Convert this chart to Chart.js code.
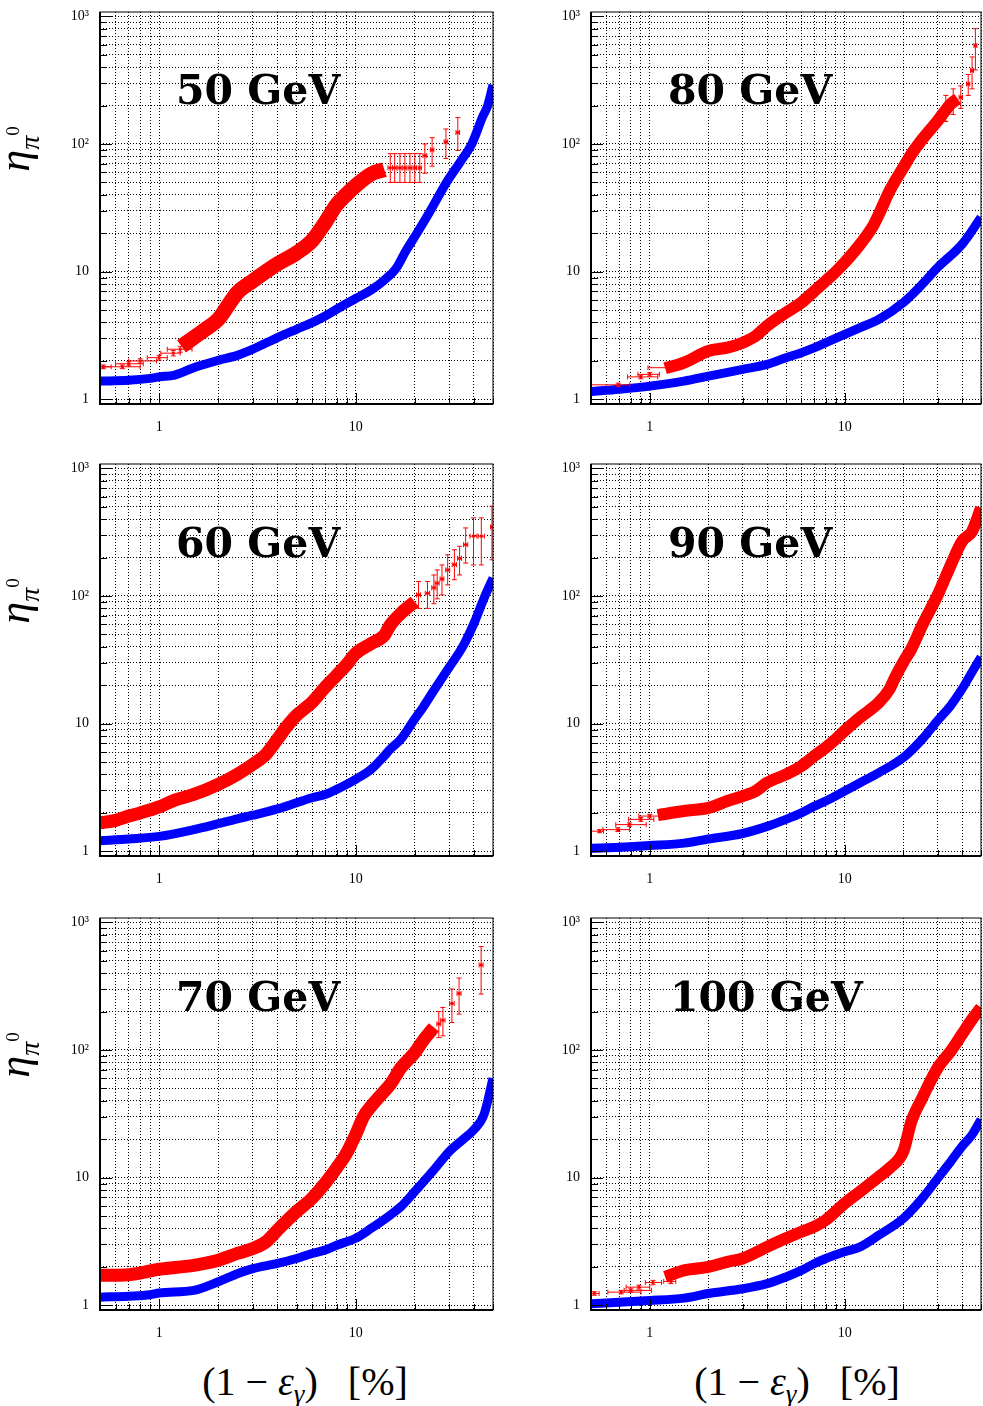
<!DOCTYPE html>
<html>
<head>
<meta charset="utf-8">
<title>eta_pi0 vs (1 - eps_gamma)</title>
<script src="https://cdn.jsdelivr.net/npm/chart.js"></script>
<style>
html, body { margin: 0; padding: 0; background: #fff; overflow: hidden; }
body { width: 983px; height: 1406px; position: relative; }
canvas { position: absolute; }
.title { position: absolute; font-family: "DejaVu Serif", serif; font-weight: bold; font-size: 41px; line-height: 41px; color: #000; white-space: nowrap; }
.ylab { position: absolute; width: 90px; height: 50px; line-height: 50px; text-align: center; font-family: "Liberation Serif", serif; font-size: 44px; font-style: italic; color: #000; transform: rotate(-90deg); white-space: nowrap; }
.ylab sub { font-size: 28px; line-height: 0; vertical-align: -10px; }
.ylab sup { font-size: 19px; line-height: 0; font-style: normal; vertical-align: 20px; }
.xlab { position: absolute; width: 320px; height: 40px; line-height: 40px; text-align: center; font-family: "Liberation Serif", serif; font-size: 40px; color: #000; white-space: nowrap; }
.xlab sub { font-size: 27px; line-height: 0; vertical-align: -8px; }
</style>
</head>
<body>
<canvas id="c50" width="500" height="444" style="left:0px;top:0px"></canvas>
<canvas id="c80" width="495" height="444" style="left:490px;top:0px"></canvas>
<canvas id="c60" width="500" height="444" style="left:0px;top:452px"></canvas>
<canvas id="c90" width="495" height="444" style="left:490px;top:452px"></canvas>
<canvas id="c70" width="500" height="444" style="left:0px;top:906px"></canvas>
<canvas id="c100" width="495" height="444" style="left:490px;top:906px"></canvas>

<div class="title" style="left:176px;top:70px">50 GeV</div>
<div class="title" style="left:668px;top:70px">80 GeV</div>
<div class="title" style="left:176px;top:523px">60 GeV</div>
<div class="title" style="left:668px;top:523px">90 GeV</div>
<div class="title" style="left:176px;top:977px">70 GeV</div>
<div class="title" style="left:670px;top:977px">100 GeV</div>

<div class="ylab" style="left:-30px;top:124px">η<sub>π<sup>0</sup></sub></div>
<div class="ylab" style="left:-30px;top:576px">η<sub>π<sup>0</sup></sub></div>
<div class="ylab" style="left:-30px;top:1030px">η<sub>π<sup>0</sup></sub></div>

<div class="xlab" style="left:145px;top:1362px">(1 − <i>ε</i><sub><i>γ</i></sub>)&nbsp;&nbsp;&nbsp;[%]</div>
<div class="xlab" style="left:637px;top:1362px">(1 − <i>ε</i><sub><i>γ</i></sub>)&nbsp;&nbsp;&nbsp;[%]</div>

<script>
// axis ticks (log-log, grid at every minor value)
var xTicks = [0.5, 0.6, 0.7, 0.8, 0.9, 1, 2, 3, 4, 5, 6, 7, 8, 9, 10, 20, 30, 40, 50];
var xTickLabels = { 1: '1', 10: '10' };
var yTicks = [1, 2, 3, 4, 5, 6, 7, 8, 9, 10, 20, 30, 40, 50, 60, 70, 80, 90,
              100, 200, 300, 400, 500, 600, 700, 800, 900, 1000];
var yTickLabels = { 1: '1', 10: '10', 100: '10²', 1000: '10³' };

// 50 GeV
var red50X = [1.3, 1.5, 1.75, 2, 2.5, 3, 4, 5, 6, 7, 8, 9, 10, 12, 14];
var red50Y = [2.6, 3.05, 3.6, 4.24, 6.86, 8.47, 11.5, 14, 17.5, 24.3, 33.4, 40.5, 47.1, 58.2, 63];
var blue50X = [0.5, 0.7, 0.9, 1, 1.2, 1.5, 2, 2.5, 3, 4, 5, 6, 7, 8, 10, 12, 14, 16, 18, 20.5, 24, 29, 34, 39, 44, 47, 50];
var blue50Y = [1.39, 1.41, 1.46, 1.5, 1.55, 1.77, 2.02, 2.21, 2.47, 3.05, 3.54, 3.99, 4.5, 5.08, 6.16, 7.2, 8.6, 10.5, 14.5, 20, 30, 50, 72, 100, 160, 200, 290];
// [x, y, xLo, xHi, yLo, yHi]
var pts50 = [
  [0.52, 1.80, 0.45, 0.57, 1.74, 1.86],
  [0.65, 1.80, 0.50, 0.80, 1.74, 1.86],
  [0.70, 1.90, 0.60, 0.83, 1.83, 1.97],
  [0.80, 2.00, 0.70, 0.97, 1.92, 2.08],
  [1.00, 2.12, 0.87, 1.10, 2.03, 2.21],
  [1.18, 2.30, 1.02, 1.28, 2.19, 2.41],
  [1.28, 2.47, 1.10, 1.47, 2.34, 2.60],
  [15.0, 65, 14.6, 15.4, 50, 84],
  [15.8, 65, 15.4, 16.2, 50, 84],
  [16.8, 65, 16.4, 17.2, 50, 84],
  [17.8, 65, 17.4, 18.2, 50, 84],
  [18.9, 65, 18.5, 19.3, 50, 84],
  [20.0, 65, 19.6, 20.4, 50, 84],
  [21.2, 65, 20.8, 21.6, 50, 84],
  [22.5, 81, 22.0, 23.0, 59, 100],
  [24.5, 90, 24.0, 25.0, 67, 112],
  [28.8, 104, 28.2, 29.4, 77, 131],
  [33.1, 123, 32.4, 33.8, 89, 161]
];

// 80 GeV
var red80X = [1.2, 1.5, 2, 2.5, 3, 3.5, 4, 5, 6, 7, 8, 9, 10, 12, 14, 15, 17, 20, 22, 25, 30, 35, 38];
var red80Y = [1.75, 1.94, 2.39, 2.54, 2.78, 3.14, 3.76, 4.78, 5.73, 7.07, 8.47, 10, 11.8, 16.4, 22.9, 28.3, 43, 65.6, 83.5, 109, 152, 206, 225];
var blue80X = [0.5, 0.7, 1, 1.5, 2, 3, 4, 5, 6, 7, 8, 10, 12, 15, 20, 25, 30, 40, 50];
var blue80Y = [1.15, 1.2, 1.27, 1.39, 1.52, 1.72, 1.88, 2.12, 2.32, 2.54, 2.78, 3.23, 3.65, 4.24, 5.73, 7.98, 10.8, 16.4, 26.6];
var pts80 = [
  [0.69, 1.30, 0.50, 0.79, 1.26, 1.34],
  [0.90, 1.50, 0.77, 1.10, 1.45, 1.55],
  [1.00, 1.57, 0.87, 1.12, 1.52, 1.62],
  [1.31, 1.77, 0.98, 1.34, 1.71, 1.83],
  [33.0, 190, 32.3, 33.7, 150, 240],
  [36.0, 215, 35.2, 36.8, 170, 270],
  [39.4, 232, 38.6, 40.2, 190, 285],
  [43.0, 295, 42.2, 43.8, 240, 350],
  [45.0, 376, 44.2, 45.8, 270, 480],
  [46.8, 590, 46.0, 47.6, 380, 800]
];

// 60 GeV
var red60X = [0.5, 0.6, 0.7, 0.8, 1, 1.2, 1.5, 2, 2.5, 3, 3.5, 4, 4.5, 5, 6, 7, 8, 9, 10, 12, 14, 15, 17, 20];
var red60Y = [1.67, 1.75, 1.89, 2.0, 2.23, 2.52, 2.79, 3.35, 4.01, 4.81, 5.77, 7.57, 9.64, 11.6, 14.7, 19.3, 23.9, 29, 35.4, 42.4, 49.3, 59.1, 73.1, 90.2];
var blue60X = [0.5, 0.7, 1, 1.5, 2, 2.5, 3, 4, 5, 6, 7, 8, 10, 12, 14, 15, 17, 20, 22, 25, 30, 35, 40, 45, 50];
var blue60Y = [1.21, 1.25, 1.31, 1.48, 1.65, 1.80, 1.92, 2.15, 2.40, 2.63, 2.79, 3.06, 3.67, 4.40, 5.60, 6.32, 7.57, 10.9, 13.4, 18.2, 27.8, 39.9, 61, 96, 138];
var pts60 = [
  [20.9, 102, 20.4, 21.4, 80, 130],
  [23.2, 105, 22.6, 23.8, 80, 130],
  [25.0, 116, 24.4, 25.6, 87, 146],
  [26.0, 126, 25.4, 26.6, 95, 160],
  [27.5, 136, 26.9, 28.1, 102, 175],
  [29.4, 160, 28.7, 30.1, 122, 210],
  [31.8, 176, 31.0, 32.6, 134, 230],
  [33.8, 197, 33.0, 34.6, 146, 245],
  [36.3, 252, 35.4, 37.2, 181, 341],
  [39.8, 294, 38.2, 41.4, 175, 409],
  [43.6, 294, 42.0, 45.2, 175, 409],
  [49.4, 347, 48.6, 50.2, 192, 505]
];

// 90 GeV
var red90X = [1.1, 1.5, 2, 2.5, 3, 3.5, 4, 5, 6, 7, 8, 9, 10, 12, 15, 17, 18, 20, 22, 25, 30, 35, 40, 45, 50];
var red90Y = [1.92, 2.07, 2.19, 2.48, 2.71, 2.97, 3.45, 4.01, 4.67, 5.6, 6.51, 7.57, 8.81, 11.2, 14.7, 18.7, 22.5, 30.4, 38.7, 59.1, 102, 175, 268, 321, 490];
var blue90X = [0.5, 0.7, 1, 1.5, 2, 3, 4, 5, 6, 7, 8, 10, 12, 15, 20, 25, 30, 35, 40, 45, 50];
var blue90Y = [1.06, 1.075, 1.11, 1.16, 1.25, 1.38, 1.57, 1.78, 2.0, 2.26, 2.48, 2.97, 3.45, 4.14, 5.43, 7.57, 10.6, 13.9, 18.7, 25.4, 33.3];
var pts90 = [
  [0.553, 1.44, 0.50, 0.58, 1.40, 1.48],
  [0.686, 1.48, 0.575, 0.787, 1.43, 1.53],
  [0.787, 1.62, 0.67, 0.96, 1.57, 1.67],
  [0.90, 1.78, 0.78, 1.05, 1.72, 1.84],
  [1.00, 1.89, 0.88, 1.15, 1.83, 1.95]
];

// 70 GeV
var red70X = [0.5, 0.7, 1, 1.5, 2, 2.5, 3, 3.5, 4, 5, 6, 7, 8, 9, 10, 11, 12, 14, 15, 17, 20, 22, 25];
var red70Y = [1.72, 1.74, 1.92, 2.06, 2.26, 2.55, 2.79, 3.15, 3.89, 5.42, 6.9, 9.05, 11.9, 15.6, 21.7, 30.3, 36.3, 47.6, 53.7, 72.6, 95.3, 118, 150];
var blue70X = [0.5, 0.7, 0.9, 1, 1.5, 2, 2.5, 3, 4, 5, 6, 7, 8, 10, 12, 15, 17, 20, 25, 30, 35, 40, 45, 50];
var blue70Y = [1.16, 1.18, 1.21, 1.25, 1.31, 1.53, 1.77, 1.94, 2.13, 2.33, 2.55, 2.71, 2.96, 3.35, 4.01, 5.1, 5.93, 7.79, 11.5, 16.1, 19.8, 23.8, 31.2, 60];
var pts70 = [
  [26.5, 160, 25.9, 27.1, 125, 200],
  [27.8, 171, 27.1, 28.5, 129, 215],
  [30.9, 231, 30.1, 31.7, 164, 300],
  [33.6, 277, 32.8, 34.4, 191, 366],
  [43.5, 463, 42.5, 44.5, 274, 646]
];

// 100 GeV
var red100X = [1.2, 1.5, 2, 2.5, 3, 4, 5, 6, 7, 8, 10, 12, 15, 17, 20, 22, 25, 30, 35, 40, 45, 50];
var red100Y = [1.67, 1.88, 2.0, 2.19, 2.33, 2.87, 3.35, 3.77, 4.13, 4.66, 6.3, 7.79, 10.2, 11.9, 16.1, 27.7, 42.2, 72.6, 98.2, 133, 174, 215];
var blue100X = [0.5, 1, 1.5, 2, 3, 4, 5, 6, 7, 8, 10, 12, 15, 20, 25, 30, 35, 40, 45, 50];
var blue100Y = [1.03, 1.09, 1.14, 1.24, 1.35, 1.48, 1.67, 1.88, 2.13, 2.33, 2.63, 2.87, 3.55, 4.8, 6.9, 9.9, 13.4, 17.6, 21.7, 28.5];
var pts100 = [
  [0.52, 1.24, 0.50, 0.55, 1.20, 1.28],
  [0.714, 1.27, 0.61, 0.903, 1.23, 1.31],
  [0.80, 1.31, 0.74, 1.02, 1.27, 1.35],
  [0.88, 1.39, 0.757, 1.0, 1.34, 1.44],
  [1.04, 1.51, 0.95, 1.15, 1.45, 1.57],
  [1.285, 1.54, 1.18, 1.36, 1.48, 1.60]
];

var RED = '#ff0000';
var BLUE = '#0000ff';
var tickFont = { family: '"Liberation Serif", serif', size: 14 };

function toPoints(xs, ys) {
  return xs.map(function (x, i) { return { x: x, y: ys[i] }; });
}

// error bars for the sparse red points
var errorBars = {
  id: 'errorBars',
  afterDatasetsDraw: function (chart) {
    var ctx = chart.ctx, a = chart.chartArea;
    var xs = chart.scales.x, ys = chart.scales.y;
    ctx.save();
    ctx.beginPath();
    ctx.rect(a.left, a.top, a.right - a.left, a.bottom - a.top);
    ctx.clip();
    chart.data.datasets.forEach(function (ds) {
      if (!ds.errors) return;
      ctx.strokeStyle = ds.borderColor;
      ctx.lineWidth = 1;
      ds.errors.forEach(function (e) {
        var x = xs.getPixelForValue(e[0]), y = ys.getPixelForValue(e[1]);
        var xl = xs.getPixelForValue(e[2]), xh = xs.getPixelForValue(e[3]);
        var yl = ys.getPixelForValue(e[4]), yh = ys.getPixelForValue(e[5]);
        ctx.beginPath();
        ctx.moveTo(xl, y); ctx.lineTo(xh, y);
        ctx.moveTo(xl, y - 2.5); ctx.lineTo(xl, y + 2.5);
        ctx.moveTo(xh, y - 2.5); ctx.lineTo(xh, y + 2.5);
        ctx.moveTo(x, yl); ctx.lineTo(x, yh);
        ctx.moveTo(x - 2.5, yl); ctx.lineTo(x + 2.5, yl);
        ctx.moveTo(x - 2.5, yh); ctx.lineTo(x + 2.5, yh);
        ctx.stroke();
      });
    });
    ctx.restore();
  }
};

// frame plus inward tick marks, ROOT style
var frame = {
  id: 'frame',
  afterDraw: function (chart) {
    var ctx = chart.ctx, a = chart.chartArea;
    var xs = chart.scales.x, ys = chart.scales.y;
    ctx.save();
    ctx.strokeStyle = '#000';
    ctx.lineWidth = 1;
    ctx.beginPath();
    xs.ticks.forEach(function (t) {
      var px = Math.round(xs.getPixelForValue(t.value)) + 0.5;
      var len = xTickLabels[t.value] ? 11 : 6;
      ctx.moveTo(px, a.bottom); ctx.lineTo(px, a.bottom - len);
    });
    ys.ticks.forEach(function (t) {
      var py = Math.round(ys.getPixelForValue(t.value)) + 0.5;
      var len = yTickLabels[t.value] ? 12 : 7;
      ctx.moveTo(a.left, py); ctx.lineTo(a.left + len, py);
    });
    ctx.stroke();
    ctx.strokeRect(a.left, a.top, a.right - a.left, a.bottom - a.top);
    ctx.lineWidth = 2;
    ctx.beginPath();
    ctx.moveTo(a.left, a.top); ctx.lineTo(a.left, a.bottom); ctx.lineTo(a.right, a.bottom);
    ctx.stroke();
    ctx.restore();
  }
};

function makePanel(id, redX, redY, blueX, blueY, pts, redWidth, yAxisWidth, padRight) {
  var ctx = document.getElementById(id).getContext('2d');
  return new Chart(ctx, {
    type: 'scatter',
    data: {
      datasets: [{
        data: toPoints(redX, redY),
        showLine: true,
        borderColor: RED,
        borderWidth: redWidth,
        pointRadius: 0,
        cubicInterpolationMode: 'monotone',
        borderJoinStyle: 'round',
        borderCapStyle: 'butt'
      }, {
        data: pts.map(function (p) { return { x: p[0], y: p[1] }; }),
        errors: pts,
        showLine: false,
        borderColor: RED,
        backgroundColor: RED,
        pointStyle: 'rect',
        pointRadius: 2,
        pointBorderWidth: 0
      }, {
        data: toPoints(blueX, blueY),
        showLine: true,
        borderColor: BLUE,
        borderWidth: 9,
        pointRadius: 0,
        cubicInterpolationMode: 'monotone',
        borderJoinStyle: 'round',
        borderCapStyle: 'butt'
      }]
    },
    options: {
      responsive: false,
      animation: false,
      events: [],
      layout: { padding: { top: 12, left: 0, right: padRight, bottom: 0 } },
      plugins: { legend: { display: false }, tooltip: { enabled: false } },
      scales: {
        x: {
          type: 'logarithmic',
          min: 0.5,
          max: 50,
          bounds: 'data',
          afterBuildTicks: function (s) { s.ticks = xTicks.map(function (v) { return { value: v }; }); },
          afterFit: function (s) { s.height = 40; s.paddingLeft = 0; s.paddingRight = 0; },
          grid: { color: '#000', lineWidth: 1, drawTicks: false },
          border: { display: false, dash: [1, 2] },
          ticks: {
            autoSkip: false, maxRotation: 0, padding: 15, color: '#000', font: tickFont,
            callback: function (v) { return xTickLabels[v] || ''; }
          }
        },
        y: {
          type: 'logarithmic',
          min: 0.92,
          max: 1080,
          bounds: 'data',
          afterBuildTicks: function (s) { s.ticks = yTicks.map(function (v) { return { value: v }; }); },
          afterFit: function (s) { s.width = yAxisWidth; s.paddingTop = 0; s.paddingBottom = 0; },
          grid: { color: '#000', lineWidth: 1, drawTicks: false },
          border: { display: false, dash: [1, 2] },
          ticks: {
            autoSkip: false, padding: 11, color: '#000', font: tickFont,
            callback: function (v) { return yTickLabels[v] || ''; }
          }
        }
      }
    },
    plugins: [errorBars, frame]
  });
}

var Panel50 = makePanel('c50', red50X, red50Y, blue50X, blue50Y, pts50, 15, 100, 7);
var Panel80 = makePanel('c80', red80X, red80Y, blue80X, blue80Y, pts80, 12, 101, 1);
var Panel60 = makePanel('c60', red60X, red60Y, blue60X, blue60Y, pts60, 13, 100, 7);
var Panel90 = makePanel('c90', red90X, red90Y, blue90X, blue90Y, pts90, 12, 101, 1);
var Panel70 = makePanel('c70', red70X, red70Y, blue70X, blue70Y, pts70, 13, 100, 7);
var Panel100 = makePanel('c100', red100X, red100Y, blue100X, blue100Y, pts100, 12, 101, 1);
</script>
</body>
</html>
